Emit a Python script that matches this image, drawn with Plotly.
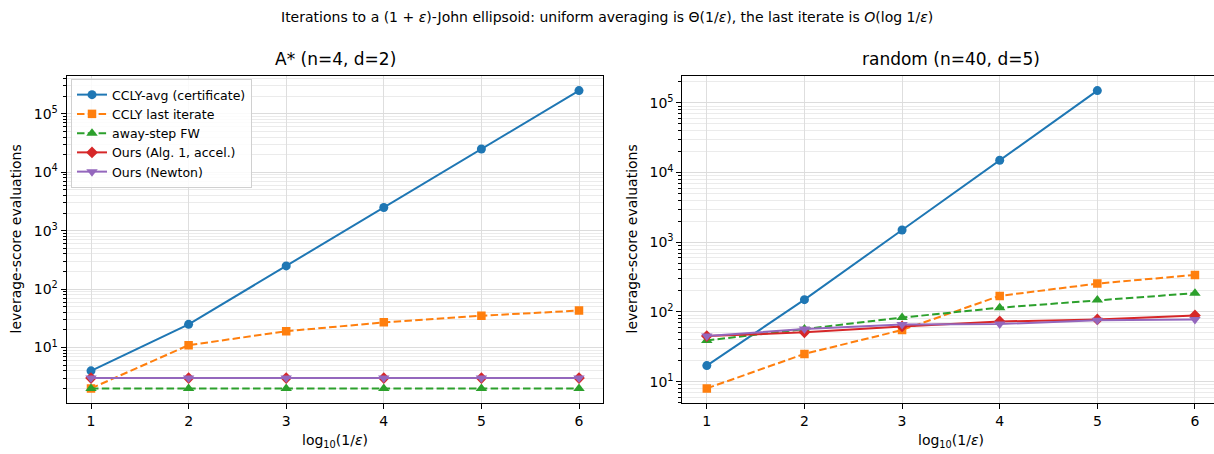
import plotly.graph_objects as go

# ---------------- data ----------------
eps_exp = [1, 2, 3, 4, 5, 6]
eps_exp_avg_random = [1, 2, 3, 4, 5]
series_names = ["CCLY-avg (certificate)", "CCLY last iterate", "away-step FW",
                "Ours (Alg. 1, accel.)", "Ours (Newton)"]

# A* (n=4, d=2)
a_ccly_avg = [4, 25, 250, 2500, 25000, 250000]
a_ccly_last = [2, 11, 19, 27, 35, 43]
a_fw = [2, 2, 2, 2, 2, 2]
a_alg1 = [3, 3, 3, 3, 3, 3]
a_newton = [3, 3, 3, 3, 3, 3]

# random (n=40, d=5)
r_ccly_avg = [17, 150, 1500, 15000, 150000]
r_ccly_last = [8, 25, 55, 170, 255, 340]
r_fw = [39, 57, 83, 115, 148, 186]
r_alg1 = [45, 51, 62, 73, 78, 89]
r_newton = [45, 57, 66, 67, 76, 78]

major_tick_vals = [10, 100, 1000, 10000, 100000]
major_tick_text = ["10<sup>1</sup>", "10<sup>2</sup>", "10<sup>3</sup>",
                   "10<sup>4</sup>", "10<sup>5</sup>"]

# ---------------- style ----------------
FONT = "DejaVu Sans"
colors = ["#1f77b4", "#ff7f0e", "#2ca02c", "#d62728", "#9467bd"]
symbols = ["circle", "square", "triangle-up", "diamond", "triangle-down"]
dashes = ["solid", "7.5px,3.3px", "7.5px,3.3px", "solid", "solid"]
msizes = [9, 8.5, 10, 9, 10]

W, H = 1214, 454
def px_x(p):
    return p / W
def px_y(p):
    return 1 - p / H

fig = go.Figure()

left_data = [a_ccly_avg, a_ccly_last, a_fw, a_alg1, a_newton]
right_data = [r_ccly_avg, r_ccly_last, r_fw, r_alg1, r_newton]

for i, (name, ys) in enumerate(zip(series_names, left_data)):
    fig.add_trace(go.Scatter(
        x=eps_exp, y=ys, name=name, mode="lines+markers",
        line=dict(color=colors[i], width=2, dash=dashes[i]),
        marker=dict(symbol=symbols[i], size=msizes[i], color=colors[i]),
        xaxis="x", yaxis="y", showlegend=True, legendgroup=name))

for i, (name, ys) in enumerate(zip(series_names, right_data)):
    xs = eps_exp_avg_random if i == 0 else eps_exp
    fig.add_trace(go.Scatter(
        x=xs, y=ys, name=name, mode="lines+markers",
        line=dict(color=colors[i], width=2, dash=dashes[i]),
        marker=dict(symbol=symbols[i], size=msizes[i], color=colors[i]),
        xaxis="x2", yaxis="y2", showlegend=False, legendgroup=name))

minor_vals = [k * 10 ** e for e in range(-1, 6) for k in range(2, 10)]

tickfont = dict(family=FONT, size=14, color="black")
y_dom = [px_y(403.3), px_y(75.7)]

common_x = dict(tickvals=eps_exp, ticks="outside", ticklen=5, tickwidth=1,
                tickcolor="black", showline=True, linecolor="black", linewidth=1,
                showgrid=True, gridcolor="#dedede", gridwidth=1, zeroline=False,
                tickfont=tickfont)
common_y = dict(type="log", tickvals=major_tick_vals, ticktext=major_tick_text,
                ticks="outside", ticklen=5, tickwidth=1, tickcolor="black",
                showline=True, linecolor="black", linewidth=1,
                showgrid=True, gridcolor="#dcdcdc", gridwidth=1, zeroline=False,
                tickfont=tickfont,
                minor=dict(tickmode="array", tickvals=minor_vals, ticks="outside",
                           ticklen=3, tickwidth=0.8, tickcolor="black",
                           showgrid=True, gridcolor="#ebebeb", gridwidth=1))

fig.update_layout(
    width=W, height=H, autosize=False,
    margin=dict(l=0, r=0, t=0, b=0),
    paper_bgcolor="white", plot_bgcolor="white",
    font=dict(family=FONT, color="black"),
    xaxis=dict(domain=[px_x(66.6), px_x(603.4)], range=[0.75, 6.25],
               anchor="y", mirror=True, **common_x),
    yaxis=dict(domain=y_dom, range=[0.046, 5.653], anchor="x", mirror=True, **common_y),
    xaxis2=dict(domain=[px_x(682.4), 1.0], range=[0.75, 6.195],
                anchor="y2", mirror=True, **common_x),
    yaxis2=dict(domain=y_dom, range=[0.689, 5.390], anchor="x2", mirror=False, **common_y),
    legend=dict(x=px_x(71), y=px_y(79), xanchor="left", yanchor="top",
                bgcolor="rgba(255,255,255,0.85)", bordercolor="#d0d0d0", borderwidth=1,
                font=dict(family=FONT, size=12.5, color="black"),
                tracegroupgap=0, itemwidth=30),
    showlegend=True,
)

annotations = [
    dict(text="Iterations to a (1 + <i>ε</i>)-John ellipsoid: uniform averaging is "
              "Θ(1/<i>ε</i>), the last iterate is <i>O</i>(log 1/<i>ε</i>)",
         x=px_x(607), y=px_y(17), font=dict(size=14)),
    dict(text="A* (n=4, d=2)", x=px_x(335), y=px_y(59), font=dict(size=17)),
    dict(text="random (n=40, d=5)", x=px_x(951), y=px_y(59), font=dict(size=17)),
    dict(text="log<sub>10</sub>(1/<i>ε</i>)", x=px_x(335), y=px_y(441), font=dict(size=14)),
    dict(text="log<sub>10</sub>(1/<i>ε</i>)", x=px_x(951), y=px_y(441), font=dict(size=14)),
    dict(text="leverage-score evaluations", x=px_x(15), y=px_y(239.5),
         textangle=-90, font=dict(size=14)),
    dict(text="leverage-score evaluations", x=px_x(631), y=px_y(239.5),
         textangle=-90, font=dict(size=14)),
]
for a in annotations:
    a.update(xref="paper", yref="paper", showarrow=False,
             xanchor="center", yanchor="middle")
    a["font"].update(family=FONT, color="black")
fig.update_layout(annotations=annotations)

fig.write_html("out.html")
